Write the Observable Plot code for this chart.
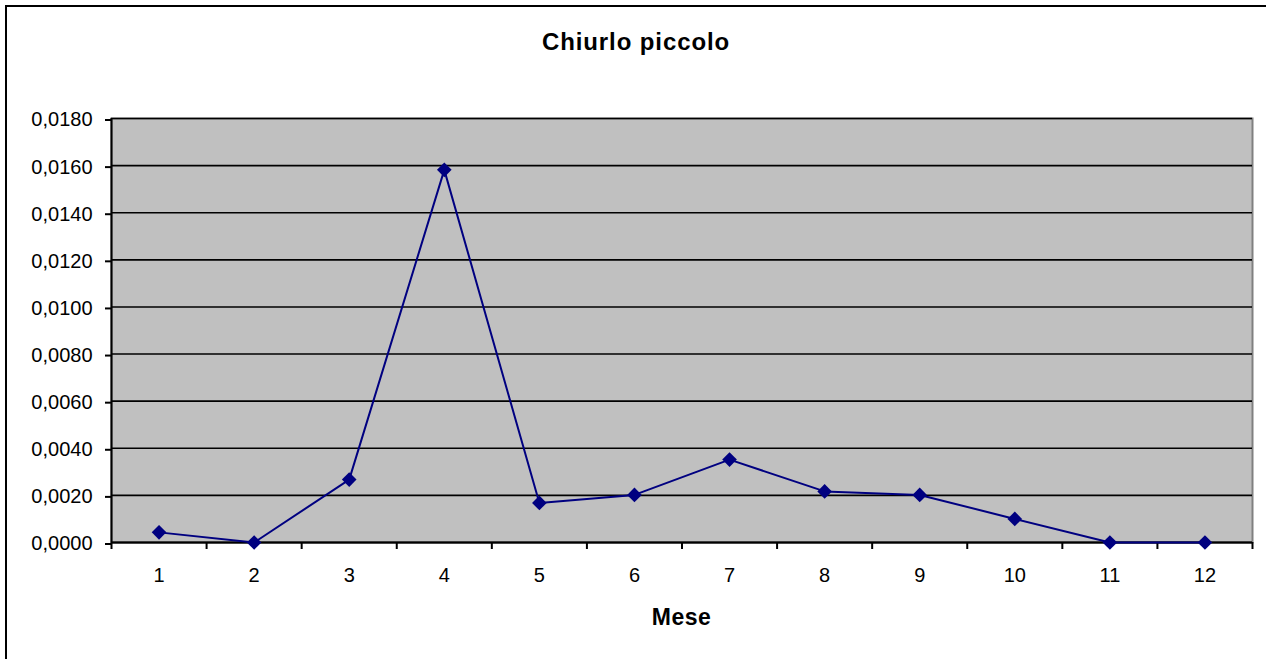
<!DOCTYPE html>
<html>
<head>
<meta charset="utf-8">
<script src="https://cdn.jsdelivr.net/npm/d3@7"></script>
<script src="https://cdn.jsdelivr.net/npm/@observablehq/plot@0.6"></script>
<style>
  html, body { margin: 0; padding: 0; background: #fff; }
  #wrap { position: relative; width: 1266px; height: 659px; overflow: hidden; font-family: "Liberation Sans", Arial, sans-serif; }
  #border { position: absolute; left: 5px; top: 5px; width: 1400px; height: 800px; border-left: 2px solid #000; border-top: 2px solid #000; }
  #chart { position: absolute; left: 0; top: 0; }
  .title { position: absolute; left: 0; width: 1272px; text-align: center; font-weight: bold; color: #000; white-space: nowrap; }
</style>
</head>
<body>
<div id="wrap">
  <div id="border"></div>
  <div id="chart"></div>
  <div class="title" id="title" style="top:29.7px;font-size:24px;line-height:24px;letter-spacing:0.9px;"></div>
  <div class="title" id="xlabel" style="left:111px;width:1141px;top:605.5px;font-size:23px;line-height:23px;letter-spacing:0.5px;"></div>
</div>
<script>
const chartTitle = "Chiurlo piccolo";
const xAxisTitle = "Mese";
const months = [1, 2, 3, 4, 5, 6, 7, 8, 9, 10, 11, 12];
const values = [0.00043, 0.0, 0.00267, 0.01582, 0.00168, 0.00202, 0.00352, 0.00217, 0.00202, 0.00100, 0.0, 0.0];
const yTicks = [0, 0.002, 0.004, 0.006, 0.008, 0.010, 0.012, 0.014, 0.016, 0.018];

document.getElementById("title").textContent = chartTitle;
document.getElementById("xlabel").textContent = xAxisTitle;

const data = months.map((m, i) => ({month: m, value: values[i]}));
const boundaries = months.map(m => m - 0.5).concat([months[months.length - 1] + 0.5]);
const fmt = v => d3.format(".4f")(v).replace(".", ",");

const chart = Plot.plot({
  width: 1266,
  height: 659,
  marginLeft: 111,
  marginRight: 14,
  marginTop: 118,
  marginBottom: 117,
  style: {fontFamily: "'Liberation Sans', Arial, sans-serif", fontSize: "20px", background: "transparent", color: "#000"},
  x: {domain: [0.5, 12.5], axis: null},
  y: {domain: [0, 0.018], axis: null},
  marks: [
    Plot.frame({fill: "#c0c0c0", stroke: "#808080", strokeWidth: 2}),
    Plot.gridY(yTicks, {stroke: "#000", strokeOpacity: 1, strokeWidth: 1.6}),
    Plot.ruleY([0], {stroke: "#000", strokeWidth: 2}),
    Plot.ruleX([0.5], {stroke: "#000", strokeWidth: 2}),
    Plot.axisX(boundaries, {tickSize: 7, tickFormat: () => "", stroke: "#000", strokeWidth: 2, label: null}),
    Plot.axisX(months, {tickSize: 0, tickPadding: 25, fontSize: 20, label: null}),
    Plot.axisY(yTicks, {tickSize: 6, tickPadding: 13, tickFormat: fmt, fontSize: 20, stroke: "#000", strokeWidth: 2, label: null, dy: 1.5}),
    Plot.line(data, {x: "month", y: "value", stroke: "#000080", strokeWidth: 2}),
    Plot.dot(data, {x: "month", y: "value", symbol: "diamond2", r: 6.6, fill: "#000080", stroke: "none"})
  ]
});
document.getElementById("chart").appendChild(chart);
</script>
</body>
</html>
